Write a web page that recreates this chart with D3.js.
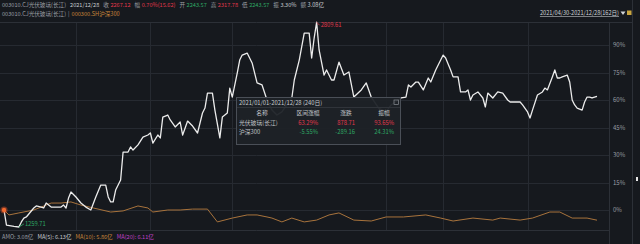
<!DOCTYPE html>
<html><head><meta charset="utf-8">
<script src="https://cdn.jsdelivr.net/npm/d3@7/dist/d3.min.js"></script>
<style>
html,body{margin:0;padding:0;background:#16191e;overflow:hidden}
svg{display:block}
text{font-family:"Noto Sans CJK SC","Noto Sans",sans-serif}
</style></head><body>
<script>
// ---- data ----
const pvDays = [0,1,4,6,7,8,9,12,13,15,16,17,19,20,23,24,25,26,27,29,31,33,35,37,39,41,42,43,44,45,47,48,50,51,52,54,56,58,59,60,62,63,64,66,67,69,71,72,74,76,78,80,81,82,84,85,87,88,90,91,92,94,95,96,98,100,102,104,106,108,110,112,116,117,119,121,123,124,125,126,127,129,130,132,133,135,137,139,141,144,146,148,151,154,156,160,162,163,164,166,167,169,171,172,174,177,178,180,181,183,184,186,187,188,189,191,193,194,195,197,199,201,203,204,208,209,211,212,213,215,217,218,219,221,222,223,224,225,227,228,229,230,231,233,234,235,236,237,238,239];
const pvPct = [0,-8.2,-8.9,-9.27,-6.5,-4.4,-3.8,1.1,2.2,1.6,1.1,3.8,1.6,1.6,1.6,2.7,1.1,6.5,9.8,7.1,3.8,1.6,0,7.1,13.6,13.6,7.1,4.4,4.4,10.9,16.4,31.6,31.6,34.4,32.7,35.5,39.8,40.9,42.0,36.5,40.9,39.3,50.7,51.8,49.1,45.3,48.0,40.9,48.5,45.8,42.0,52.9,55.6,63.8,63.8,54.5,39.3,50.7,52.9,66.5,61.6,74.7,81.8,84.5,85.6,80.2,69.3,68.2,60.0,54.5,51.8,53.5,61.1,70.9,81.8,96.5,96.5,82.9,93.8,102.4,87.3,73.6,76.4,70.9,70.9,80.7,73.6,75.3,61.6,65.5,69.3,61.6,55.6,53.5,57.3,61.1,61.6,68.2,67.1,69.8,69.8,65.5,72.0,69.8,76.4,84.5,82.9,76.4,72.6,72.6,64.4,64.4,65.5,60.0,62.7,64.4,61.1,56.2,63.8,61.1,64.4,63.8,60.0,58.9,58.9,57.3,53.5,50.2,54.5,62.7,64.4,66.5,65.5,72.6,76.4,72.0,72.0,72.6,73.6,69.8,60.0,57.3,55.6,54.5,58.9,61.6,61.6,61.1,61.6,62.0];
const hsDays = [0,2,6,12,19,23,27,31,36,43,48,54,58,60,66,71,76,82,86,92,98,102,106,108,112,116,121,126,131,135,141,148,154,161,170,176,181,189,197,200,208,213,220,224,229,235,239];
const hsPct = [0,-2.7,-1.6,0,3.8,3.8,4.4,2.7,1.1,-1.1,-0.5,2.2,1.1,-1.1,0,0,0.5,0.5,-6.5,-4.4,-2.7,-2.7,-3.8,-4.4,-6.5,-4.4,-6.5,-5.5,-2.7,-1.6,-5.5,-6.0,-3.8,-3.8,-2.7,-4.4,-6.0,-4.4,-5.5,-4.4,-5.5,-4.4,-1.1,-1.1,-4.4,-4.4,-5.55];
const yTicks = [0,15,30,45,60,75,90];
const yTickLabels = ["0%","15%","30%","45%","60%","75%","90%"];
const gridDays = [29,59,92,154,177,211];
const headerName = "003010.CJ光伏玻璃(长江)";
const headerDate = "2021/12/28";
const quoteLabels = ["收","幅","开","高","低","振","额"];
const quoteValues = ["2267.12","0.70%(15.62)","2243.57","2317.78","2243.57","3.30%","3.08亿"];
const compareName = "000300.SH沪深300";
const rangeText = "2021/04/30-2021/12/28(162日)";
const tipTitle = "2021/01/01-2021/12/28 (240日)";
const tipCols = ["名称","区间涨幅","涨跌","振幅"];
const tipNames = ["光伏玻璃(长江)","沪深300"];
const tipChg = ["63.29%","-5.55%"];
const tipDiff = ["878.71","-289.16"];
const tipAmp = ["93.65%","24.31%"];
const highLabel = "2809.61";
const lowLabel = "1259.71";
const amoLabels = ["AMO: 3.08亿","MA(5): 6.13亿","MA(10): 5.86亿","MA(20): 6.11亿"];

// ---- drawing ----
const W=640,H=244;
const RED="#e0384c",GREEN="#2ea865",GRAY="#9a9ea4",ORANGE="#c8853a",LIGHT="#c8ccd0";
const svg=d3.select("body").append("svg").attr("width",W).attr("height",H);
svg.append("rect").attr("width",W).attr("height",H).attr("fill","#16191e");

const x=d3.scaleLinear().domain([0,239]).range([4,597]);
const y=d3.scaleLinear().domain([0,90]).range([210,45]);
const plotR=609, plotT=22, plotB=230;

// sequential text helper
function seq(parent, items, x0, yy, fs, gap){
  let cx=x0;
  items.forEach(it=>{
    const t=parent.append("text").attr("x",cx).attr("y",yy).attr("font-size",fs).attr("fill",it.c).text(it.t);
    cx += t.node().getComputedTextLength() + (it.g!==undefined?it.g:gap);
  });
  return cx;
}

// grid
const g=svg.append("g");
g.selectAll(".hg").data(yTicks).join("line")
  .attr("x1",0).attr("x2",plotR).attr("y1",d=>Math.round(y(d))+0.5).attr("y2",d=>Math.round(y(d))+0.5)
  .attr("stroke","#262a31").attr("stroke-width",1);
g.selectAll(".vg").data(gridDays).join("line")
  .attr("x1",d=>Math.round(x(d))+0.5).attr("x2",d=>Math.round(x(d))+0.5).attr("y1",plotT).attr("y2",plotB)
  .attr("stroke","#262a31").attr("stroke-width",1);
// frame lines
svg.append("line").attr("x1",0).attr("x2",632).attr("y1",plotT+0.5).attr("y2",plotT+0.5).attr("stroke","#2c3037");
svg.append("line").attr("x1",plotR+0.5).attr("x2",plotR+0.5).attr("y1",plotT).attr("y2",H).attr("stroke","#2c3037");
svg.append("line").attr("x1",632.5).attr("x2",632.5).attr("y1",0).attr("y2",H).attr("stroke","#2c3037");
svg.append("line").attr("x1",0).attr("x2",plotR).attr("y1",plotB+0.5).attr("y2",plotB+0.5).attr("stroke","#2c3037");
svg.append("rect").attr("x",636).attr("y",177).attr("width",2).attr("height",4).attr("fill","#e6e6e6");

// y axis labels
svg.append("g").selectAll("text").data(yTicks).join("text")
  .attr("x",613).attr("y",d=>y(d)+2.3).attr("font-size",6).attr("fill",GRAY)
  .text((d,i)=>yTickLabels[i]);

// lines
const hsData=hsDays.map((d,i)=>[d,hsPct[i]]);
const pvData=pvDays.map((d,i)=>[d,pvPct[i]]);
const line=d3.line().x(d=>x(d[0])).y(d=>y(d[1]));
svg.append("path").datum(hsData).attr("d",line).attr("fill","none").attr("stroke","#a8733c").attr("stroke-width",1);
svg.append("path").datum(pvData).attr("d",line).attr("fill","none").attr("stroke","#ececec").attr("stroke-width",1.3).attr("stroke-linejoin","round");

// start dot
svg.append("circle").attr("cx",x(0)).attr("cy",y(0)).attr("r",3.6).attr("fill","#e0552a").attr("opacity",0.45);
svg.append("circle").attr("cx",x(0)).attr("cy",y(0)).attr("r",2.2).attr("fill","#f06a30");

// high/low labels
const hiI=pvPct.indexOf(d3.max(pvPct)), loI=pvPct.indexOf(d3.min(pvPct));
const hx=x(pvDays[hiI]), hy=y(pvPct[hiI]);
svg.append("line").attr("x1",hx).attr("x2",hx+3).attr("y1",hy).attr("y2",hy+3).attr("stroke",RED).attr("stroke-width",0.8);
svg.append("text").attr("x",hx+4).attr("y",hy+5).attr("font-size",5.8).attr("fill",RED).text(highLabel);
const lx=x(pvDays[loI]), ly=y(pvPct[loI]);
svg.append("line").attr("x1",lx).attr("x2",lx+5).attr("y1",ly).attr("y2",ly-3).attr("stroke",GREEN).attr("stroke-width",0.8);
svg.append("text").attr("x",lx+6).attr("y",ly-1).attr("font-size",5.8).attr("fill",GREEN).text(lowLabel);

// header
const hdr=svg.append("g");
const FS=5.6;
const items=[{t:headerName,c:GRAY,g:4},{t:headerDate,c:LIGHT,g:4}];
quoteLabels.forEach((l,i)=>{
  const qc=[RED,RED,GREEN,RED,GREEN,LIGHT,LIGHT][i];
  items.push({t:l,c:GRAY,g:1.5});
  items.push({t:quoteValues[i],c:qc,g:4});
});
seq(hdr,items,2,6.5,FS,3);
seq(hdr,[{t:headerName,c:GRAY,g:2},{t:"|",c:GRAY,g:2},{t:compareName,c:ORANGE}],2,15.5,FS,2);
hdr.append("text").attr("x",619).attr("y",15).attr("text-anchor","end").attr("font-size",5.6)
  .attr("fill","#d0d4d8").attr("text-decoration","underline").text(rangeText);
hdr.append("path").attr("d","M620.5,11.5 L625.5,11.5 L623,15 Z").attr("fill","#d0d4d8");
svg.append("rect").attr("x",627).attr("y",10.5).attr("width",4.5).attr("height",4.5).attr("fill","#c9a640");

// tooltip box
const tb=svg.append("g");
tb.append("rect").attr("x",236.5).attr("y",97.5).attr("width",164).attr("height",47)
  .attr("fill","#1e2227").attr("fill-opacity",0.95).attr("stroke","#4a4f57");
tb.append("line").attr("x1",237).attr("x2",400).attr("y1",107.5).attr("y2",107.5).attr("stroke","#30343a");
tb.append("text").attr("x",239).attr("y",104.5).attr("font-size",5.8).attr("fill",LIGHT).text(tipTitle);
tb.append("rect").attr("x",394).attr("y",100).attr("width",4.5).attr("height",4.5).attr("fill","none").attr("stroke","#8a8f95").attr("stroke-width",0.7);
const cx=[262,308,346,384];
tipCols.forEach((c,i)=>tb.append("text").attr("x",cx[i]).attr("y",115).attr("text-anchor","middle").attr("font-size",5.8).attr("fill","#c0c4c8").text(c));
const rowY=[124.5,133.5];
tipNames.forEach((n,i)=>{
  tb.append("text").attr("x",239).attr("y",rowY[i]).attr("font-size",5.8).attr("fill","#c0c4c8").text(n);
  const col=i===0?RED:GREEN;
  tb.append("text").attr("x",cx[1]+10).attr("y",rowY[i]).attr("text-anchor","end").attr("font-size",5.8).attr("fill",col).text(tipChg[i]);
  tb.append("text").attr("x",cx[2]+9).attr("y",rowY[i]).attr("text-anchor","end").attr("font-size",5.8).attr("fill",col).text(tipDiff[i]);
  tb.append("text").attr("x",cx[3]+10).attr("y",rowY[i]).attr("text-anchor","end").attr("font-size",5.8).attr("fill",col).text(tipAmp[i]);
});

// bottom AMO text
const ac=[GRAY,LIGHT,ORANGE,"#c040c8"];
seq(svg,amoLabels.map((t,i)=>({t:t,c:ac[i]})),2,239,5.6,4);
</script>
</body></html>
